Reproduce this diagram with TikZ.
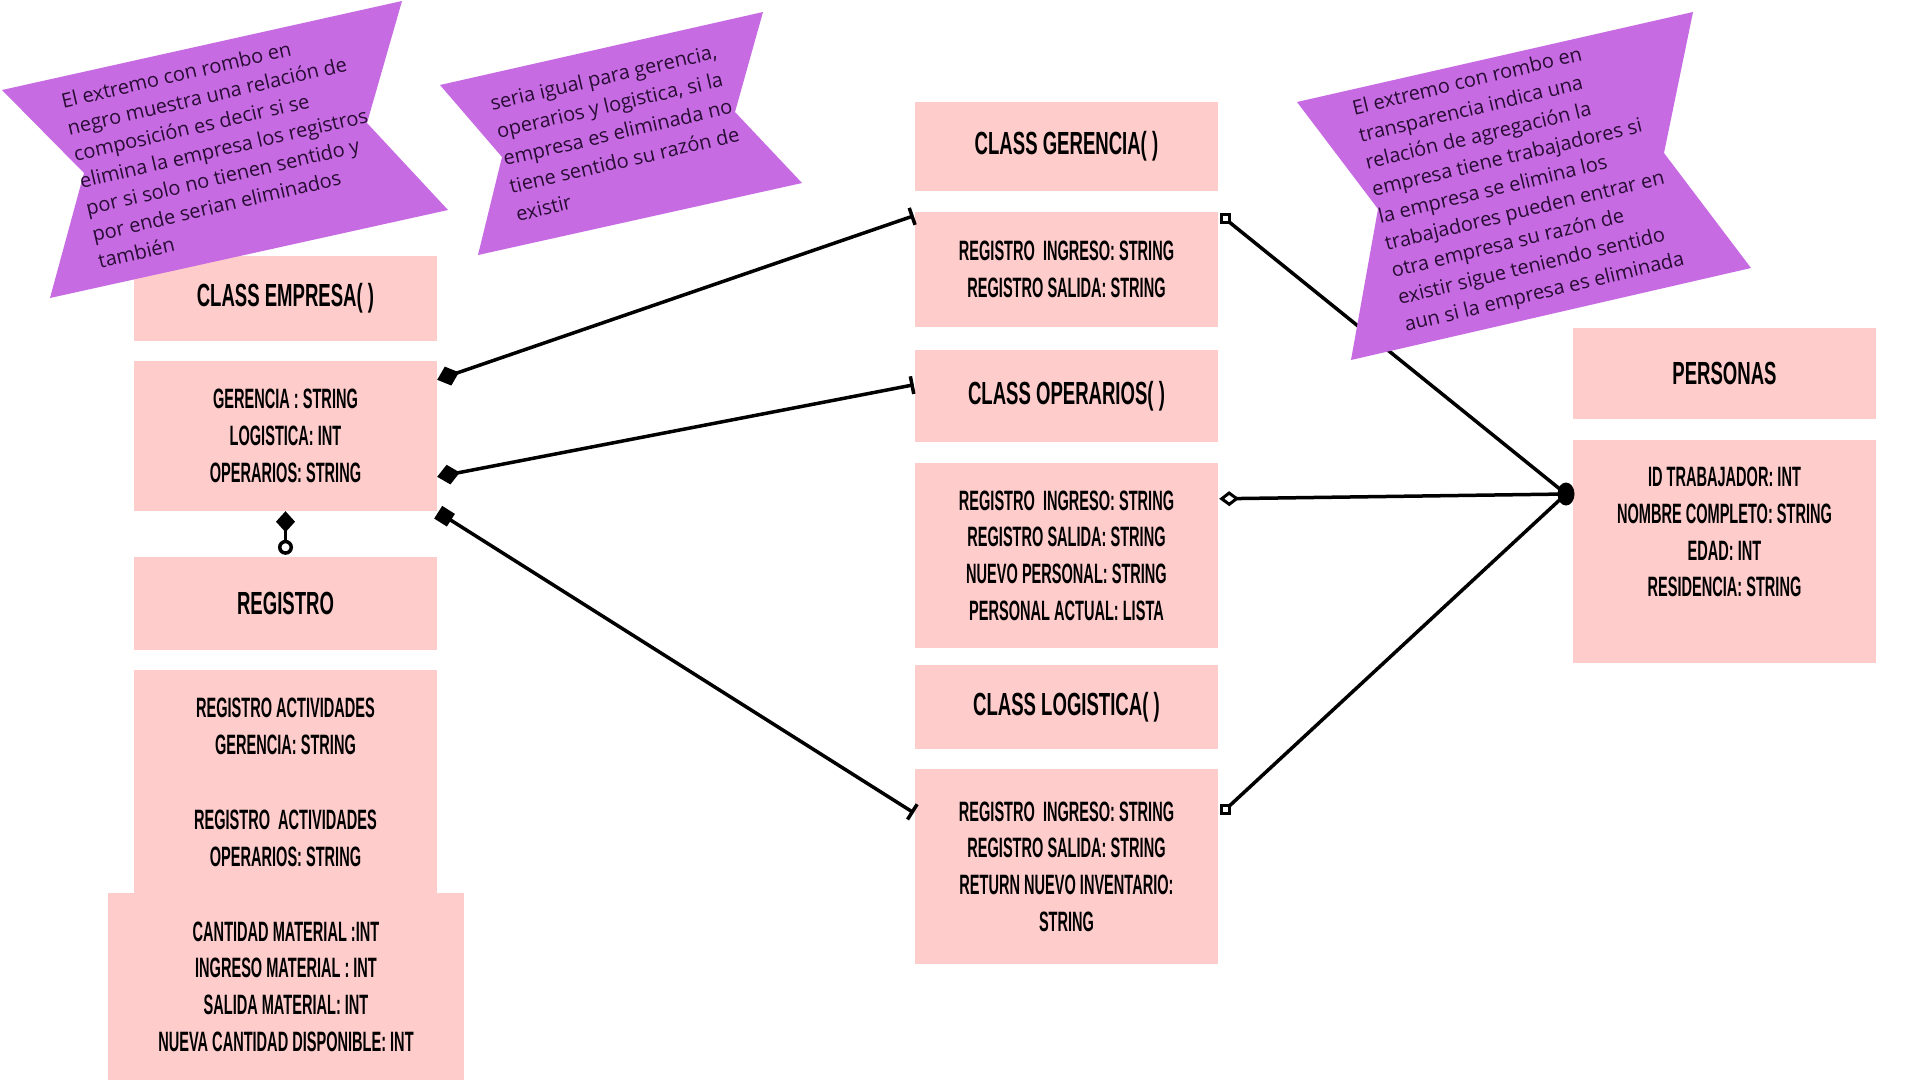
\documentclass[tikz,border=0pt]{standalone}
\usepackage{fontspec}
\usetikzlibrary{arrows.meta,calc,shapes.geometric}
\newfontfamily\osans{Open Sans}
\newfontfamily\boxf{Liberation Sans}[FakeStretch=0.52]
\newfontfamily\titlef{Liberation Sans}[FakeStretch=0.58]
\definecolor{pinkc}{RGB}{255,204,204}
\definecolor{purplec}{RGB}{199,107,227}
\definecolor{bantext}{RGB}{40,12,52}
\begin{document}
\begin{tikzpicture}[x=1pt,y=-1pt,
  box/.style={fill=pinkc, draw=none, inner sep=0pt, align=center, minimum width=303pt, text=black},
  attr/.style={box, font=\boxf\bfseries\fontsize{28}{36.7}\selectfont},
  ttl/.style={box, font=\titlef\bfseries\fontsize{32}{38}\selectfont},
  attrtxt/.style={inner sep=0pt, align=center, text=black, font=\boxf\bfseries\fontsize{28}{36.7}\selectfont},
  conn/.style={line width=3.5pt, draw=black},
  sqmark/.style={rectangle, draw=black, fill=white, line width=3pt, minimum size=8pt, inner sep=0pt},
  ban/.style={fill=purplec, draw=none},
  bantxt/.style={anchor=north west, inner sep=0pt, align=left, text=bantext},
]
\fill[white] (0,0) rectangle (1920,1080);
\useasboundingbox (0,0) rectangle (1920,1080);

% left column
\node[ttl, minimum height=85pt] (et) at (285.5,298.5) {CLASS EMPRESA( )};
\node[attr, minimum height=150pt] (ea) at (285.5,436) {GERENCIA : STRING\\LOGISTICA: INT\\OPERARIOS: STRING};
\node[ttl, minimum height=93pt] (rg) at (285.5,603.5) {REGISTRO};
\node[attr, minimum height=113pt] (r1) at (285.5,726.5) {REGISTRO ACTIVIDADES\\GERENCIA: STRING};
\node[attr, minimum height=110pt] (r2) at (285.5,838) {REGISTRO\ \ ACTIVIDADES\\OPERARIOS: STRING};
\node[attr, minimum width=356pt, minimum height=187pt] (r3) at (286,986.5) {CANTIDAD MATERIAL :INT\\INGRESO MATERIAL : INT\\SALIDA MATERIAL: INT\\NUEVA CANTIDAD DISPONIBLE: INT};

% middle column
\node[ttl, minimum height=89pt] (gt) at (1066.5,146.5) {CLASS GERENCIA( )};
\node[attr, minimum height=115pt] (ga) at (1066.5,269.5) {REGISTRO\ \ INGRESO: STRING\\REGISTRO SALIDA: STRING};
\node[ttl, minimum height=92pt] (ot) at (1066.5,396) {CLASS OPERARIOS( )};
\node[attr, minimum height=185pt] (oa) at (1066.5,555.5) {REGISTRO\ \ INGRESO: STRING\\REGISTRO SALIDA: STRING\\NUEVO PERSONAL: STRING\\PERSONAL ACTUAL: LISTA};
\node[ttl, minimum height=84pt] (lt) at (1066.5,707) {CLASS LOGISTICA( )};
\node[attr, minimum height=195pt] (la) at (1066.5,866.5) {REGISTRO\ \ INGRESO: STRING\\REGISTRO SALIDA: STRING\\RETURN NUEVO INVENTARIO:\\STRING};

% right column
\node[ttl, minimum height=91pt] (pt) at (1724.5,373.5) {PERSONAS};
\node[box, minimum height=223pt] (pa) at (1724.5,551.5) {};
\node[attrtxt] (pat) at ($(pa.center)+(0,-19.5)$) {ID TRABAJADOR: INT\\NOMBRE COMPLETO: STRING\\EDAD: INT\\RESIDENCIA: STRING};

% connector end points
\path (ea.north east) ++(0,19) coordinate (c1s);
\path (ga.north west) ++(-1,4) coordinate (c1e);
\path (ea.north east) ++(0,116) coordinate (c2s);
\path (ot.north west) ++(-1,35) coordinate (c2e);
\path (ea.south east) ++(1,1) coordinate (c3s);
\path (la.north west) ++(-1,44) coordinate (c3e);
\path (oa.north east) ++(1,36) coordinate (c5s);

\node[ellipse, fill=black, minimum width=17pt, minimum height=23pt, inner sep=0pt] (blob) at (1566,494) {};

% composition connectors
\draw[conn, {Diamond[length=23pt,width=20pt]}-{Bar[width=18pt]}] (c1s) -- (c1e);
\draw[conn, {Diamond[length=23pt,width=20pt]}-{Bar[width=18pt]}] (c2s) -- (c2e);
\draw[conn, {Square[length=15pt,width=15pt]}-{Bar[width=18pt]}] (c3s) -- (c3e);
\draw[conn, {Diamond[length=21pt,width=19pt]}-{Circle[fill=white,length=15pt]}, shorten >=2pt] (ea.south) -- (rg.north);

% aggregation connectors
\draw[conn] ($(ga.north east)+(7,7)$) -- (blob.center);
\draw[conn] ($(la.north east)+(7,41)$) -- (blob.center);
\node[sqmark] (sq1) at ($(ga.north east)+(7,7)$) {};
\node[sqmark] (sq2) at ($(la.north east)+(7,41)$) {};
\draw[conn, {Diamond[fill=white,length=20pt,width=15pt,line width=3pt]}-] (c5s) -- (blob.center);

% banners
\fill[ban] (2,90) -- (402,1) -- (367,123) -- (448,210) -- (50,298) -- (84,173) -- cycle;
\fill[ban] (440,85) -- (763,12) -- (735,112) -- (802,183) -- (478,255) -- (502,157) -- cycle;
\fill[ban] (1297,102) -- (1693,12) -- (1664,153) -- (1751,268) -- (1351,360) -- (1378,209) -- cycle;

\node[bantxt, rotate=13, font=\osans\fontsize{20}{27.4}\selectfont] (b1) at (59.6,93.4) {El extremo con rombo en\\negro muestra una relación de\\composición es decir si se\\elimina la empresa los registros\\por si solo no tienen sentido y\\por ende serian eliminados\\también};
\node[bantxt, rotate=13, font=\osans\fontsize{20}{28.5}\selectfont] (b2) at (488.6,95.4) {seria igual para gerencia,\\operarios y logistica, si la\\empresa es eliminada no\\tiene sentido su razón de\\existir};
\node[bantxt, rotate=13.5, font=\osans\fontsize{20}{27.8}\selectfont] (b3) at (1350.6,100.4) {El extremo con rombo en\\transparencia indica una\\relación de agregación la\\empresa tiene trabajadores si\\la empresa se elimina los\\trabajadores pueden entrar en\\otra empresa su razón de\\existir sigue teniendo sentido\\aun si la empresa es eliminada};
\end{tikzpicture}
\end{document}
